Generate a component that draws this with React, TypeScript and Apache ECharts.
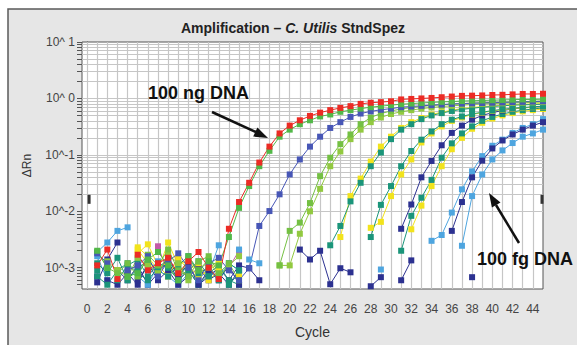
import React, { useEffect, useRef } from "react";
import * as echarts from "echarts";

const N = null;

const cycles = [1, 2, 3, 4, 5, 6, 7, 8, 9, 10, 11, 12, 13, 14, 15, 16, 17, 18, 19, 20, 21, 22, 23, 24, 25, 26, 27, 28, 29, 30, 31, 32, 33, 34, 35, 36, 37, 38, 39, 40, 41, 42, 43, 44, 45];
const xLabelValues = [0, 2, 4, 6, 8, 10, 12, 14, 16, 18, 20, 22, 24, 26, 28, 30, 32, 34, 36, 38, 40, 42, 44];
const xTickValues = [0, 1, 2, 3, 4, 5, 6, 7, 8, 9, 10, 11, 12, 13, 14, 15, 16, 17, 18, 19, 20, 21, 22, 23, 24, 25, 26, 27, 28, 29, 30, 31, 32, 33, 34, 35, 36, 37, 38, 39, 40, 41, 42, 43, 44, 45];
const xGridValues = [0, 1, 2, 3, 4, 5, 6, 7, 8, 9, 10, 11, 12, 13, 14, 15, 16, 17, 18, 19, 20, 21, 22, 23, 24, 25, 26, 27, 28, 29, 30, 31, 32, 33, 34, 35, 36, 37, 38, 39, 40, 41, 42, 43, 44];
const yGridValues = [
  0.0005, 0.0006, 0.0007, 0.0008, 0.0009,
  0.001, 0.002, 0.003, 0.004, 0.005, 0.006, 0.007, 0.008, 0.009,
  0.01, 0.02, 0.03, 0.04, 0.05, 0.06, 0.07, 0.08, 0.09,
  0.1, 0.2, 0.3, 0.4, 0.5, 0.6, 0.7, 0.8, 0.9,
  1, 2, 3, 4, 5, 6, 7, 8, 9,
];
const yTickValues = [...yGridValues, 10];
const yMin = 0.00042;
const yMax = 10;
const thresholdValue = 0.0163;

// ΔRn per cycle (1..45), null = not plotted
const red100ng = [0.0011, 0.0021, 0.00063, N, 0.0017, 0.0009, 0.0012, 0.0015, 0.0008, 0.0013, 0.0019, 0.001, 0.00063, 0.0049, 0.0146, 0.032, 0.073, 0.14, 0.24, 0.33, 0.41, 0.49, 0.56, 0.62, 0.68, 0.73, 0.8, 0.84, 0.86, 0.89, 0.96, 0.98, 1.0, 1.02, 1.05, 1.08, 1.11, 1.12, 1.13, 1.15, 1.16, 1.18, 1.2, 1.2, 1.21];
const green100ng = [0.002, 0.001, N, 0.0007, 0.0008, 0.0014, 0.0019, 0.0011, 0.0006, 0.0016, 0.0009, 0.0013, 0.0011, 0.0035, 0.0115, 0.028, 0.063, 0.118, 0.21, 0.28, 0.35, 0.41, 0.48, 0.52, 0.58, 0.62, 0.66, 0.7, 0.73, 0.76, 0.79, 0.81, 0.83, 0.85, 0.87, 0.88, 0.9, 0.91, 0.92, 0.93, 0.94, 0.95, 0.96, 0.96, 0.97];
const blue10ng = [0.0018, 0.0012, N, 0.0009, 0.0011, 0.0016, 0.0007, 0.0013, 0.0018, 0.001, 0.0006, 0.0012, 0.0015, 0.0009, 0.0006, 0.00098, 0.0055, 0.0101, 0.02, 0.045, 0.083, 0.14, 0.21, 0.3, 0.38, 0.47, 0.54, 0.59, 0.63, 0.66, 0.7, 0.72, 0.74, 0.76, 0.78, 0.8, 0.81, 0.82, 0.83, 0.84, 0.85, 0.86, 0.87, 0.88, 0.89];
const green1ngA = [0.0019, 0.001, 0.0008, 0.0012, 0.0007, 0.0017, 0.0011, 0.0021, 0.0009, 0.0007, 0.0013, 0.0016, 0.0008, 0.0012, 0.0006, N, N, N, 0.0011, 0.0045, 0.0063, 0.014, 0.042, 0.089, 0.155, 0.23, 0.35, 0.46, 0.54, 0.6, 0.65, 0.69, 0.72, 0.75, 0.77, 0.79, 0.81, 0.83, 0.84, 0.85, 0.86, 0.87, 0.88, 0.89, 0.9];
const green1ngB = [N, 0.0013, 0.0009, 0.0007, 0.0015, 0.0011, 0.0008, 0.0017, 0.0012, 0.0006, 0.0009, 0.0014, 0.0007, 0.0011, 0.0016, N, N, N, 0.0011, 0.0011, 0.004, 0.01, 0.025, 0.063, 0.115, 0.19, 0.28, 0.38, 0.46, 0.53, 0.58, 0.62, 0.66, 0.69, 0.72, 0.74, 0.76, 0.78, 0.8, 0.81, 0.82, 0.83, 0.84, 0.85, 0.86];
const teal100pg = [0.0012, 0.0008, 0.0015, 0.0006, 0.001, 0.0013, 0.0009, 0.0007, 0.0011, 0.0016, 0.0008, 0.001, 0.0006, 0.0012, 0.0009, N, N, N, N, N, N, N, N, 0.0025, 0.0055, 0.015, 0.032, 0.063, 0.11, 0.19, 0.28, 0.35, 0.43, 0.5, 0.55, 0.6, 0.64, 0.67, 0.7, 0.72, 0.74, 0.76, 0.77, 0.78, 0.79];
const yellow100pg = [N, N, N, N, 0.0021, 0.0012, 0.0009, 0.0028, 0.0011, 0.0014, 0.0008, 0.001, 0.0013, N, 0.0007, N, N, N, N, N, N, N, N, N, 0.0035, 0.0186, 0.038, 0.076, 0.14, 0.21, 0.3, 0.38, 0.45, 0.52, 0.57, 0.62, 0.66, 0.69, 0.72, 0.74, 0.76, 0.78, 0.79, 0.8, 0.81];
const teal10pg = [0.0009, N, 0.0006, 0.0011, 0.0014, 0.0007, 0.0012, 0.001, 0.0006, 0.0009, 0.0013, 0.0007, N, 0.0005, 0.0008, N, N, N, N, N, N, N, N, N, N, N, N, 0.0035, 0.013, 0.028, 0.063, 0.117, 0.186, 0.26, 0.35, 0.42, 0.48, 0.53, 0.57, 0.61, 0.64, 0.67, 0.69, 0.71, 0.73];
const yellow10pg = [N, N, 0.0009, N, 0.0018, 0.0026, 0.0011, 0.0007, 0.0015, 0.0009, 0.0012, 0.0006, 0.0009, N, N, N, N, N, N, N, N, N, N, N, N, N, N, 0.0051, 0.0065, 0.0186, 0.045, 0.083, 0.166, 0.24, 0.32, 0.4, 0.46, 0.52, 0.56, 0.6, 0.63, 0.66, 0.68, 0.7, 0.72];
const navy1pg = [0.00055, 0.0014, 0.0028, N, 0.0006, 0.0011, 0.0008, 0.0016, 0.0007, 0.0012, 0.0005, 0.0009, 0.0006, 0.0011, 0.0005, N, N, N, N, N, N, N, N, N, N, N, N, N, N, N, 0.0049, 0.0132, 0.04, 0.078, 0.148, 0.245, 0.33, 0.42, 0.5, 0.56, 0.61, 0.65, 0.68, 0.7, 0.72];
const teal1pg = [0.0007, 0.0005, 0.0009, 0.0012, 0.0008, 0.0006, 0.001, 0.0014, 0.0007, 0.0009, 0.0005, 0.0008, 0.0011, 0.0006, 0.0005, N, N, N, N, N, N, N, N, N, N, N, N, N, N, N, 0.002, 0.0083, 0.0174, 0.036, 0.089, 0.16, 0.24, 0.32, 0.4, 0.47, 0.53, 0.58, 0.62, 0.65, 0.68];
const yellow1pg = [N, N, N, N, 0.0023, 0.0016, 0.0009, 0.0013, 0.0008, 0.0011, 0.0007, 0.0009, 0.0012, N, N, N, N, N, N, N, N, N, N, N, N, N, N, N, N, N, N, 0.0048, 0.0126, 0.028, 0.063, 0.126, 0.2, 0.29, 0.37, 0.44, 0.5, 0.55, 0.59, 0.62, 0.65];
const lblue100fgA = [0.0019, 0.0028, 0.0045, 0.0052, N, 0.0009, 0.0013, N, 0.0007, 0.0011, N, 0.0008, 0.0025, N, 0.0021, N, N, N, N, N, N, N, N, N, N, N, N, N, N, N, N, N, N, 0.003, 0.0038, 0.0095, 0.0245, 0.051, 0.095, 0.145, 0.186, 0.245, 0.3, 0.35, 0.43];
const lblue100fgB = [0.0016, 0.0006, N, N, 0.0007, 0.0005, 0.0011, 0.0007, 0.0005, 0.0008, 0.0006, 0.001, 0.0007, 0.0012, 0.0009, N, N, N, N, N, N, N, N, N, N, N, N, N, N, N, N, N, N, N, N, N, 0.00245, 0.0186, 0.045, 0.083, 0.12, 0.162, 0.21, 0.24, 0.28];
const navy100fg = [N, 0.0006, 0.0005, 0.0008, 0.0005, 0.0012, 0.0006, 0.0009, 0.0005, 0.0007, 0.001, 0.0006, 0.0008, 0.0005, 0.0009, N, N, N, N, N, N, N, N, N, N, N, N, N, N, N, N, N, N, N, N, 0.0045, 0.0146, 0.04, 0.079, 0.13, 0.18, 0.23, 0.28, 0.33, 0.38];
const navyNTC = [0.0007, N, 0.0009, 0.0006, 0.0011, 0.0005, 0.0008, 0.0013, 0.0006, 0.0009, 0.0005, 0.0007, 0.001, 0.0006, 0.0011, 0.00098, 0.0006, N, N, N, 0.0021, 0.0014, 0.002, 0.00051, 0.00098, 0.00083, N, 0.00047, 0.00068, N, 0.0006, 0.00135, N, N, N, N, N, 0.00068, N, N, N, N, N, N, N];
const magentaNTC = [N, N, N, N, 0.0009, N, 0.0024, 0.0008, 0.0015, N, 0.0011, N, N, 0.001, 0.002, N, N, N, N, N, N, N, N, N, N, N, N, N, N, N, N, N, N, N, N, N, N, N, N, N, N, N, N, N, N];
const lblueNTC = [N, N, N, N, N, N, N, N, N, N, N, N, N, N, N, 0.0014, 0.0012, N, N, N, N, N, N, N, N, N, N, N, 0.00093, N, N, N, N, N, N, N, N, N, N, N, N, N, N, N, N];

const COL = {
  red: "#ec2b25",
  green: "#52b848",
  blue: "#4756b6",
  lgreen: "#74c043",
  lgreen2: "#92c940",
  teal: "#1b957a",
  yellow: "#f2e31c",
  navy: "#2c3190",
  lblue: "#4ea5df",
  magenta: "#c45ba8",
};

const FONT = '"Liberation Sans", Arial, Helvetica, sans-serif';

const curves: { name: string; values: (number | null)[]; color: string }[] = [
  { name: "NTC magenta", values: magentaNTC, color: COL.magenta },
  { name: "NTC navy", values: navyNTC, color: COL.navy },
  { name: "NTC light blue", values: lblueNTC, color: COL.lblue },
  { name: "100 fg B", values: lblue100fgB, color: COL.lblue },
  { name: "100 fg A", values: lblue100fgA, color: COL.lblue },
  { name: "100 fg C", values: navy100fg, color: COL.navy },
  { name: "1 pg C", values: yellow1pg, color: COL.yellow },
  { name: "1 pg B", values: teal1pg, color: COL.teal },
  { name: "1 pg A", values: navy1pg, color: COL.navy },
  { name: "10 pg B", values: yellow10pg, color: COL.yellow },
  { name: "10 pg A", values: teal10pg, color: COL.teal },
  { name: "100 pg B", values: yellow100pg, color: COL.yellow },
  { name: "100 pg A", values: teal100pg, color: COL.teal },
  { name: "1 ng B", values: green1ngB, color: COL.lgreen2 },
  { name: "1 ng A", values: green1ngA, color: COL.lgreen },
  { name: "10 ng", values: blue10ng, color: COL.blue },
  { name: "100 ng B", values: green100ng, color: COL.green },
  { name: "100 ng A", values: red100ng, color: COL.red },
];

function expLabel(v: number): string {
  const e = Math.round(Math.log10(v));
  return "10^" + (e >= 0 ? " " + e : String(e));
}

export default function App() {
  const ref = useRef<HTMLDivElement>(null);

  useEffect(() => {
    if (!ref.current) return;
    const chart = echarts.init(ref.current, undefined, { renderer: "svg" });

    const dataSeries = curves.map((c) => ({
      name: c.name,
      type: "line",
      data: cycles.map((cy, i) => [cy, c.values[i] === null ? null : c.values[i]]),
      symbol: "rect",
      symbolSize: 6,
      connectNulls: false,
      lineStyle: { width: 1, color: c.color },
      itemStyle: { color: c.color },
      emphasis: { disabled: true },
      z: 2,
    }));

    const option: any = {
      animation: false,
      title: {
        text: "Amplification – {i|C. Utilis} StndSpez",
        left: 181,
        top: 21,
        padding: 0,
        textStyle: {
          fontSize: 14,
          fontWeight: "bold",
          color: "#222",
          fontFamily: FONT,
          rich: {
            i: { fontSize: 14, fontWeight: "bold", fontStyle: "italic", color: "#222", fontFamily: FONT },
          },
        },
      },
      grid: {
        left: 82,
        top: 42,
        right: 34,
        bottom: 56,
        show: true,
        backgroundColor: "#ffffff",
        borderColor: "#555",
        borderWidth: 1,
        outerBoundsMode: "none",
      },
      xAxis: {
        type: "value",
        min: -0.5,
        max: 45,
        name: "Cycle",
        nameLocation: "middle",
        nameGap: 36,
        nameTextStyle: { fontSize: 14, color: "#333", fontFamily: FONT },
        axisLine: { show: true, lineStyle: { color: "#555" } },
        axisTick: { show: true, inside: false, length: 5, customValues: xTickValues, lineStyle: { color: "#555" } },
        axisLabel: { customValues: xLabelValues, fontSize: 12, color: "#444", margin: 14, fontFamily: FONT },
        splitLine: { show: false },
      },
      yAxis: [
        {
          type: "log",
          logBase: 10,
          min: yMin,
          max: yMax,
          splitNumber: 4,
          name: "ΔRn",
          nameLocation: "middle",
          nameGap: 49,
          nameTextStyle: { fontSize: 12, color: "#333", fontFamily: FONT },
          axisLine: { show: true, lineStyle: { color: "#555" } },
          axisTick: { show: false },
          axisLabel: {
            formatter: (v: number) => expLabel(v),
            showMinLabel: false,
            fontSize: 12,
            color: "#444",
            margin: 7,
            fontFamily: FONT,
          },
          splitLine: { show: false },
        },
        {
          type: "value",
          position: "left",
          min: Math.log10(yMin),
          max: Math.log10(yMax),
          axisLine: { show: false },
          axisLabel: { show: false },
          splitLine: { show: false },
          axisTick: {
            show: true,
            inside: false,
            length: 5,
            customValues: yTickValues.map((v) => Math.log10(v)),
            lineStyle: { color: "#555" },
          },
        },
      ],
      series: [
        {
          name: "grid",
          type: "line",
          data: [],
          silent: true,
          markLine: {
            silent: true,
            z: 1,
            symbol: ["none", "none"],
            label: { show: false },
            emphasis: { disabled: true },
            lineStyle: { color: "#c6c6c6", width: 1.2, type: "solid" },
            data: [
              ...xGridValues.map((v) => ({ xAxis: v })),
              ...yGridValues.map((v) => ({ yAxis: v })),
            ],
          },
          markPoint: {
            silent: true,
            symbol: "rect",
            symbolSize: [3, 9],
            itemStyle: { color: "#333" },
            label: { show: false },
            data: [{ coord: [0.2, thresholdValue] }, { coord: [44.9, thresholdValue] }],
          },
        },
        ...dataSeries,
      ],
      graphic: [
        {
          type: "rect",
          z: -10,
          silent: true,
          shape: { x: 8, y: 9, width: 620, height: 400 },
          style: { fill: "#e6e6e6", stroke: "#5a5a5a", lineWidth: 1.5 },
        },
        {
          type: "text",
          z: 20,
          x: 148,
          y: 93,
          style: { text: "100 ng DNA", font: `bold 18px ${FONT}`, fill: "#111", align: "left", verticalAlign: "middle" },
        },
        {
          type: "text",
          z: 20,
          x: 477,
          y: 259,
          style: { text: "100 fg DNA", font: `bold 18px ${FONT}`, fill: "#111", align: "left", verticalAlign: "middle" },
        },
        {
          type: "line",
          z: 20,
          shape: { x1: 212, y1: 112, x2: 256, y2: 132 },
          style: { stroke: "#111", lineWidth: 2.5 },
        },
        {
          type: "polygon",
          z: 20,
          shape: { points: [[268, 138], [253.2, 136.6], [257.4, 127.6]] },
          style: { fill: "#111" },
        },
        {
          type: "line",
          z: 20,
          shape: { x1: 519, y1: 243, x2: 496, y2: 205 },
          style: { stroke: "#111", lineWidth: 2.5 },
        },
        {
          type: "polygon",
          z: 20,
          shape: { points: [[489, 193], [500.5, 202.4], [491.9, 207.6]] },
          style: { fill: "#111" },
        },
      ],
    };

    chart.setOption(option);
    return () => chart.dispose();
  }, []);

  return (
    <div
      ref={ref}
      style={{ position: "fixed", left: 0, top: 0, width: 577, height: 345, background: "#ffffff" }}
    />
  );
}
